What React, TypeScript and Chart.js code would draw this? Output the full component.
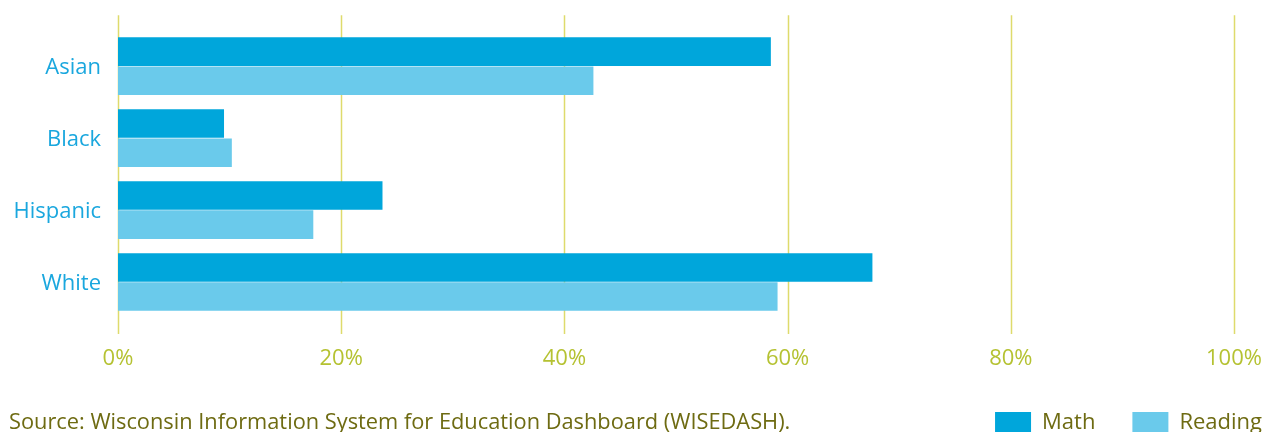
import React, { useEffect, useRef } from "react";
import { Chart, registerables } from "chart.js";

Chart.register(...registerables);

const categories = ["Asian", "Black", "Hispanic", "White"];
const mathValues = [58.5, 9.5, 23.7, 67.6];
const readingValues = [42.6, 10.2, 17.5, 59.1];
const seriesLabels = ["Math", "Reading"];
const xTickStep = 20;
const xMin = 0;
const xMax = 100;
const sourceText =
  "Source: Wisconsin Information System for Education Dashboard (WISEDASH).";

const FONT = "'Open Sans', 'Noto Sans', sans-serif";
const MATH_COLOR = "#00a6db";
const READING_COLOR = "#6acaeb";
const GRID_COLOR = "#dedb6c";
const TICK_COLOR = "#b5c232";
const CAT_COLOR = "#1aa7de";
const SOURCE_COLOR = "#6e6b12";
const LEGEND_PAD = 37;

const extendedGrid = {
  id: "extendedGrid",
  beforeDatasetsDraw(chart: any) {
    const { ctx, chartArea, scales } = chart;
    const x = scales.x;
    ctx.save();
    ctx.strokeStyle = GRID_COLOR;
    ctx.lineWidth = 1.5;
    x.ticks.forEach((t: any) => {
      const px = Math.round(x.getPixelForValue(t.value)) + 0.5;
      ctx.beginPath();
      ctx.moveTo(px, chartArea.top - 15);
      ctx.lineTo(px, chartArea.bottom + 16);
      ctx.stroke();
    });
    ctx.restore();
  },
};

const sourcePlugin = {
  id: "sourceText",
  afterDraw(chart: any) {
    const { ctx, legend } = chart;
    if (!legend) return;
    ctx.save();
    ctx.font = `21.8px ${FONT}`;
    ctx.fillStyle = SOURCE_COLOR;
    ctx.textAlign = "left";
    ctx.textBaseline = "middle";
    ctx.fillText(sourceText, 9, legend.top + LEGEND_PAD + 11);
    ctx.restore();
  },
};

export default function App() {
  const canvasRef = useRef<HTMLCanvasElement | null>(null);

  useEffect(() => {
    document.body.style.margin = "0";
    document.body.style.overflow = "hidden";
    const canvas = canvasRef.current;
    if (!canvas) return;
    const chart = new Chart(canvas, {
      type: "bar",
      data: {
        labels: categories,
        datasets: [
          {
            label: seriesLabels[0],
            data: mathValues,
            backgroundColor: MATH_COLOR,
            borderWidth: 0,
            barPercentage: 0.98,
            categoryPercentage: 0.81,
          },
          {
            label: seriesLabels[1],
            data: readingValues,
            backgroundColor: READING_COLOR,
            borderWidth: 0,
            barPercentage: 0.98,
            categoryPercentage: 0.81,
          },
        ],
      },
      options: {
        indexAxis: "y",
        animation: false,
        responsive: true,
        maintainAspectRatio: false,
        layout: { padding: { top: 29, left: 0, right: 0, bottom: 0 } },
        scales: {
          x: {
            min: xMin,
            max: xMax,
            grid: { display: false, drawTicks: false },
            border: { display: false },
            ticks: {
              stepSize: xTickStep,
              color: TICK_COLOR,
              font: { family: FONT, size: 22 },
              padding: 28,
              maxRotation: 0,
              callback: (v: any) => `${v}%`,
            },
            afterFit: (s: any) => {
              s.height = 57;
              s.paddingRight = 65;
            },
          },
          y: {
            grid: { display: false, drawTicks: false },
            border: { display: false },
            ticks: {
              color: CAT_COLOR,
              font: { family: FONT, size: 22 },
              padding: 17,
              labelOffset: 2,
            },
            afterFit: (s: any) => {
              s.width = 118;
            },
          },
        },
        plugins: {
          legend: {
            position: "bottom",
            align: "end",
            labels: {
              boxWidth: 36,
              boxHeight: 22,
              padding: LEGEND_PAD,
              color: SOURCE_COLOR,
              font: { family: FONT, size: 22 },
            },
          },
          tooltip: { enabled: false },
        },
      },
      plugins: [extendedGrid, sourcePlugin],
    });
    return () => chart.destroy();
  }, []);

  return (
    <div style={{ width: 1267, height: 432, overflow: "hidden", position: "relative" }}>
      <div style={{ width: 1299, height: 444, position: "relative" }}>
        <canvas ref={canvasRef} />
      </div>
    </div>
  );
}
